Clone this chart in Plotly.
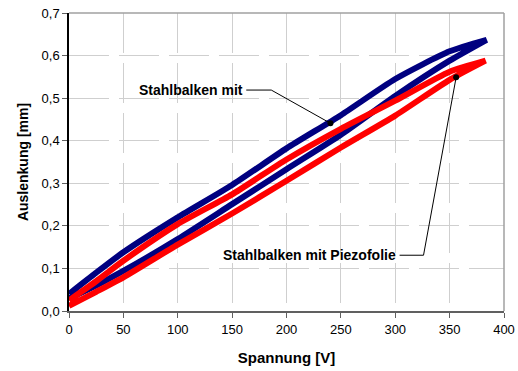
import plotly.graph_objects as go

# Spannung [V] sample points along each branch
volt_blue = [0, 25, 50, 100, 150, 200, 250, 300, 350, 384]
blue_up = [0.040, 0.090, 0.138, 0.220, 0.296, 0.382, 0.460, 0.545, 0.610, 0.637]
blue_lo = [0.030, 0.060, 0.094, 0.169, 0.251, 0.333, 0.414, 0.505, 0.588, 0.637]

volt_red = [0, 25, 50, 100, 150, 200, 250, 300, 350, 383]
red_up = [0.025, 0.070, 0.118, 0.204, 0.274, 0.356, 0.428, 0.494, 0.562, 0.588]
red_lo = [0.012, 0.045, 0.079, 0.156, 0.229, 0.306, 0.384, 0.459, 0.543, 0.588]

x_ticks = [0, 50, 100, 150, 200, 250, 300, 350, 400]
y_ticks = [0.0, 0.1, 0.2, 0.3, 0.4, 0.5, 0.6, 0.7]
y_labels = ["0,0", "0,1", "0,2", "0,3", "0,4", "0,5", "0,6", "0,7"]

label1 = "Stahlbalken mit"
label1_line_x = [163, 186, 240.4]
label1_line_y = [0.519, 0.519, 0.441]
label2 = "Stahlbalken mit Piezofolie"
label2_line_x = [304, 326, 356]
label2_line_y = [0.131, 0.131, 0.549]

FONT = "Liberation Sans, Arial, sans-serif"

fig = go.Figure()
fig.add_trace(go.Scatter(
    x=volt_blue + volt_blue[::-1], y=blue_lo + blue_up[::-1],
    mode="lines", line=dict(color="#000080", width=6, shape="spline", smoothing=0.6),
    showlegend=False))
fig.add_trace(go.Scatter(
    x=volt_red + volt_red[::-1], y=red_lo + red_up[::-1],
    mode="lines", line=dict(color="#FF0000", width=6, shape="spline", smoothing=0.6),
    showlegend=False))

for lx, ly in [(label1_line_x, label1_line_y), (label2_line_x, label2_line_y)]:
    fig.add_trace(go.Scatter(x=lx, y=ly, mode="lines", line=dict(color="black", width=1),
                             showlegend=False))
    fig.add_trace(go.Scatter(x=[lx[-1]], y=[ly[-1]], mode="markers",
                             marker=dict(color="black", size=6), showlegend=False))

fig.add_annotation(x=label1_line_x[0] - 1.5, y=label1_line_y[0], text="<b>%s</b>" % label1,
                   showarrow=False, xanchor="right", yanchor="middle",
                   font=dict(family=FONT, size=14, color="black"))
fig.add_annotation(x=label2_line_x[0] - 1.5, y=label2_line_y[0], text="<b>%s</b>" % label2,
                   showarrow=False, xanchor="right", yanchor="middle",
                   font=dict(family=FONT, size=14, color="black"))

fig.update_layout(
    width=518, height=371,
    margin=dict(l=69, r=14, t=13, b=60),
    paper_bgcolor="white", plot_bgcolor="white",
    font=dict(family=FONT, size=13, color="black"),
    xaxis=dict(
        range=[0, 400], tickvals=x_ticks, ticks="outside", ticklen=5, tickcolor="#606060",
        showline=True, linecolor="#606060", linewidth=2, mirror=False,
        showgrid=True, gridcolor="#cfcfcf", gridwidth=1, griddash="40px,10px",
        zeroline=False, automargin=False,
        title=dict(text="<b>Spannung [V]</b>", font=dict(size=15), standoff=17),
        tickfont=dict(size=13),
    ),
    yaxis=dict(
        range=[0, 0.7], tickvals=y_ticks, ticktext=y_labels, ticks="outside", ticklen=5,
        tickcolor="#606060",
        showline=True, linecolor="black", linewidth=1.5,
        showgrid=True, gridcolor="#cfcfcf", gridwidth=1, griddash="40px,10px",
        zeroline=False, automargin=False,
        title=dict(text="<b>Auslenkung [mm]</b>", font=dict(size=14), standoff=10),
        tickfont=dict(size=13),
    ),
)
# top and right frame
fig.add_shape(type="line", xref="paper", yref="paper", x0=0, x1=1, y0=1, y1=1,
              line=dict(color="#a0a0a0", width=1.5))
fig.add_shape(type="line", xref="paper", yref="paper", x0=1, x1=1, y0=0, y1=1,
              line=dict(color="#a0a0a0", width=1.5))

fig.write_html("out.html")
